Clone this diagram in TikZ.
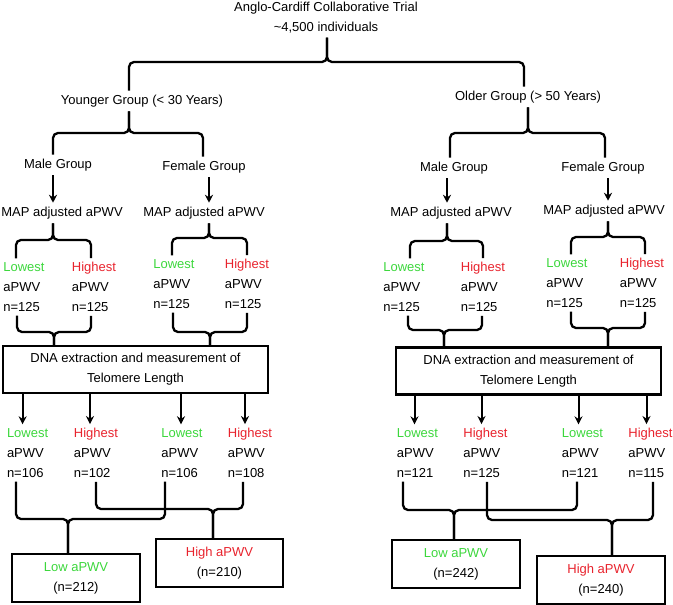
\documentclass[tikz,border=0pt]{standalone}
\usepackage{fontspec}
\setmainfont{Liberation Sans}
\usepackage{xcolor}
\usepackage{tikz}
\usetikzlibrary{arrows.meta}

\definecolor{lowgreen}{RGB}{60,215,60}
\definecolor{highred}{RGB}{232,35,45}

% curly fork: #1 junction, #2 and #3 leg ends, #4 node at the stem
\newcommand{\fork}[4]{%
  \draw[brace] (#2) |- (#1) -- (#4 -| #1);
  \draw[brace] (#3) |- (#1) -- (#4 -| #1);
}
\newcommand{\lowtxt}[1]{\textcolor{lowgreen}{Lowest}\\aPWV\\n=#1}
\newcommand{\hightxt}[1]{\textcolor{highred}{Highest}\\aPWV\\n=#1}

\begin{document}
\begin{tikzpicture}[x=1pt,y=-1pt,
  lbl/.style={font=\fontsize{13}{20}\selectfont, inner sep=4pt},
  stack/.style={lbl, align=left},
  box/.style={draw, line width=2.3pt, lbl, align=center, minimum height=47pt},
  brace/.style={line width=2.3pt, rounded corners=5pt},
  arr/.style={line width=2pt, -{Stealth[length=8pt,width=8pt]}}]
  \useasboundingbox (0,0) rectangle (673,605);

  % top levels
  \node[lbl, align=center] (trial) at (326,18) {Anglo-Cardiff Collaborative Trial\\\textasciitilde4,500 individuals};
  \node[lbl] (young) at (142,101) {Younger Group (< 30 Years)};
  \node[lbl] (old) at (528,97) {Older Group (> 50 Years)};

  \node[lbl] (ymale) at (58,165) {Male Group};
  \node[lbl] (yfemale) at (204,167) {Female Group};
  \node[lbl] (omale) at (454,168) {Male Group};
  \node[lbl] (ofemale) at (603,168) {Female Group};

  \node[lbl] (ymapA) at (62,213) {MAP adjusted aPWV};
  \node[lbl] (ymapB) at (204,213) {MAP adjusted aPWV};
  \node[lbl] (omapA) at (451,213) {MAP adjusted aPWV};
  \node[lbl] (omapB) at (604,211) {MAP adjusted aPWV};

  % first split by aPWV
  \node[stack] (ys1) at (24,287) {\lowtxt{125}};
  \node[stack] (ys2) at (94,287) {\hightxt{125}};
  \node[stack] (ys3) at (174,284) {\lowtxt{125}};
  \node[stack] (ys4) at (247,284) {\hightxt{125}};
  \node[stack] (os1) at (404,287) {\lowtxt{125}};
  \node[stack] (os2) at (483,287) {\hightxt{125}};
  \node[stack] (os3) at (567,283) {\lowtxt{125}};
  \node[stack] (os4) at (642,283) {\hightxt{125}};

  \node[box, minimum width=265pt] (dnaY) at (135.5,369.5) {DNA extraction and measurement of\\Telomere Length};
  \node[box, minimum width=265pt] (dnaO) at (528.5,371) {DNA extraction and measurement of\\Telomere Length};

  % after telomere measurement
  \node[stack] (yr1) at (27.6,453) {\lowtxt{106}};
  \node[stack] (yr2) at (96,453) {\hightxt{102}};
  \node[stack] (yr3) at (182,453) {\lowtxt{106}};
  \node[stack] (yr4) at (250,453) {\hightxt{108}};
  \node[stack] (or1) at (417.5,453) {\lowtxt{121}};
  \node[stack] (or2) at (485.5,453) {\hightxt{125}};
  \node[stack] (or3) at (582.5,453) {\lowtxt{121}};
  \node[stack] (or4) at (650.5,453) {\hightxt{115}};

  \node[box, minimum width=128pt, minimum height=48pt] (ylow) at (76,578) {\textcolor{lowgreen}{Low aPWV}\\(n=212)};
  \node[box, minimum width=127pt, minimum height=48pt] (yhigh) at (219.5,563) {\textcolor{highred}{High aPWV}\\(n=210)};
  \node[box, minimum width=128pt, minimum height=48pt] (olow) at (456,564) {\textcolor{lowgreen}{Low aPWV}\\(n=242)};
  \node[box, minimum width=128pt, minimum height=48pt] (ohigh) at (601,580) {\textcolor{highred}{High aPWV}\\(n=240)};

  % fork junctions
  \coordinate (j0) at (327,62);
  \coordinate (jy) at (129,133);
  \coordinate (jo) at (528,133);
  \coordinate (jyA) at (53,240);
  \coordinate (jyB) at (209,238);
  \coordinate (joA) at (447,241);
  \coordinate (joB) at (608,237);
  \coordinate (kyA) at (54,332);
  \coordinate (kyB) at (210,332);
  \coordinate (koA) at (444,330);
  \coordinate (koB) at (608,328);
  \coordinate (ylj) at (68,519);
  \coordinate (yhj) at (213,509);
  \coordinate (olj) at (454,510);
  \coordinate (ohj) at (612,520);

  \fork{j0}{[xshift=-13pt]young.north}{[xshift=-4pt]old.north}{trial.south}
  \fork{jy}{[xshift=-5pt]ymale.north}{[xshift=-1pt]yfemale.north}{young.south}
  \fork{jo}{[xshift=-4pt]omale.north}{[xshift=2pt]ofemale.north}{old.south}

  \draw[arr] (ymale.south -| jyA) -- (ymapA.north -| jyA);
  \draw[arr] (yfemale.south -| jyB) -- (ymapB.north -| jyB);
  \draw[arr] (omale.south -| joA) -- (omapA.north -| joA);
  \draw[arr] (ofemale.south -| joB) -- (omapB.north -| joB);

  \fork{jyA}{[xshift=-8pt]ys1.north}{[xshift=-3pt]ys2.north}{ymapA.south}
  \fork{jyB}{[xshift=-2pt]ys3.north}{ys4.north}{ymapB.south}
  \fork{joA}{[xshift=6pt]os1.north}{os2.north}{omapA.south}
  \fork{joB}{[xshift=4pt]os3.north}{[xshift=3pt]os4.north}{omapB.south}

  \fork{kyA}{[xshift=-7pt]ys1.south}{[xshift=-3pt]ys2.south}{dnaY.north}
  \fork{kyB}{[xshift=-1pt]ys3.south}{ys4.south}{dnaY.north}
  \fork{koA}{[xshift=4pt]os1.south}{[xshift=-1pt]os2.south}{dnaO.north}
  \fork{koB}{[xshift=4pt]os3.south}{[xshift=3pt]os4.south}{dnaO.north}

  \draw[arr] ([xshift=-5pt]dnaY.south -| yr1.north) -- ([xshift=-5pt]yr1.north);
  \draw[arr] ([xshift=-6pt]dnaY.south -| yr2.north) -- ([xshift=-6pt]yr2.north);
  \draw[arr] ([xshift=-1pt]dnaY.south -| yr3.north) -- ([xshift=-1pt]yr3.north);
  \draw[arr] ([xshift=-5pt]dnaY.south -| yr4.north) -- ([xshift=-5pt]yr4.north);
  \draw[arr] ([xshift=-3pt]dnaO.south -| or1.north) -- ([xshift=-3pt]or1.north);
  \draw[arr] ([xshift=-4pt]dnaO.south -| or2.north) -- ([xshift=-4pt]or2.north);
  \draw[arr] ([xshift=-4pt]dnaO.south -| or3.north) -- ([xshift=-4pt]or3.north);
  \draw[arr] ([xshift=-4pt]dnaO.south -| or4.north) -- ([xshift=-4pt]or4.north);

  \fork{ylj}{[xshift=-11.6pt]yr1.south}{[xshift=-17pt]yr3.south}{ylow.north}
  \fork{yhj}{yr2.south}{[xshift=-7pt]yr4.south}{yhigh.north}
  \fork{olj}{[xshift=-14.5pt]or1.south}{[xshift=-5.5pt]or3.south}{olow.north}
  \fork{ohj}{[xshift=1.5pt]or2.south}{[xshift=2.5pt]or4.south}{ohigh.north}
\end{tikzpicture}
\end{document}
